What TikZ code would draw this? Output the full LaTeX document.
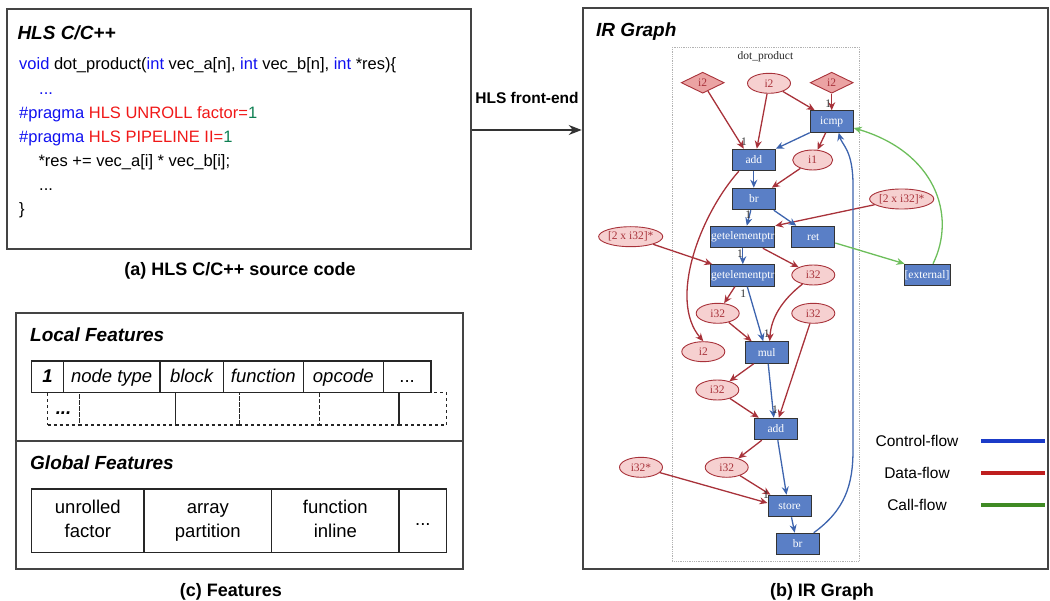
\documentclass[tikz,border=0pt]{standalone}
\usepackage{fontspec}
\setmainfont{Liberation Sans}
\newfontfamily\irfont{Liberation Serif}
\usetikzlibrary{shapes.geometric,arrows.meta,calc}
\definecolor{cblue}{HTML}{1010F0}
\definecolor{cred}{HTML}{F01818}
\definecolor{cgreen}{HTML}{0E7F52}
\definecolor{boxfill}{HTML}{5A7FC6}
\definecolor{ellfill}{HTML}{F6D0D0}
\definecolor{diafill}{HTML}{EBA3A3}
\definecolor{dataE}{HTML}{A8323A}
\definecolor{ctrlE}{HTML}{3D64AE}
\definecolor{callE}{HTML}{6DBE5B}
\definecolor{legBlue}{HTML}{1B3BC8}
\definecolor{legRed}{HTML}{BE1E1E}
\definecolor{legGreen}{HTML}{3F8A24}
\definecolor{framec}{HTML}{444444}
\tikzset{
  panel/.style={draw=framec, line width=2pt, inner sep=0pt},
  ptitle/.style={font=\fontsize{19}{22}\selectfont\bfseries\itshape, anchor=west, inner sep=0pt},
  caption/.style={font=\fontsize{18}{22}\selectfont\bfseries, inner sep=0pt},
  codeline/.style={font=\fontsize{16.5}{20}\selectfont, anchor=base west, inner sep=0pt},
  cellsolid/.style={draw=black!85, line width=1.3pt, inner sep=0pt, text height=14.5pt, text depth=3.5pt, font=\fontsize{18.5}{22}\selectfont\itshape},
  celldash/.style={draw=black!85, line width=1.3pt, dashed, inner sep=0pt, text height=14.5pt, text depth=3.5pt, font=\fontsize{18.5}{22}\selectfont\bfseries\itshape},
  cellglob/.style={draw=black!85, line width=1.3pt, inner sep=0pt, align=center, font=\fontsize{18.5}{23.3}\selectfont},
  irbox/.style={draw=black!80, fill=boxfill, text=white, line width=1pt, minimum width=43pt, minimum height=21.5pt, inner sep=0pt, font=\irfont\fontsize{11.5}{12}\selectfont},
  irell/.style={ellipse, draw=dataE, fill=ellfill, text=dataE, line width=0.9pt, minimum width=43pt, minimum height=20pt, inner sep=0pt, font=\irfont\fontsize{11.5}{12}\selectfont},
  irdia/.style={diamond, aspect=2, draw=dataE, fill=diafill, text=dataE, line width=0.9pt, minimum width=43pt, minimum height=21pt, inner sep=0pt, font=\irfont\fontsize{11.5}{12}\selectfont},
  dataedge/.style={draw=dataE, line width=1.3pt, -{Stealth[length=8pt,width=7pt]}},
  ctrledge/.style={draw=ctrlE, line width=1.3pt, -{Stealth[length=8pt,width=7pt]}},
  calledge/.style={draw=callE, line width=1.3pt, -{Stealth[length=8pt,width=7pt]}},
  onelabel/.style={font=\irfont\fontsize{11.5}{12}\selectfont, inner sep=0pt, text=black!80},
  legtext/.style={font=\fontsize{15.5}{18}\selectfont, inner sep=0pt},
  legline/.style={line width=4pt}
}
\begin{document}
\begin{tikzpicture}[x=1pt,y=-1pt]
\useasboundingbox (0,0) rectangle (1050,601);

% ---------- (a) source code panel
\node[panel, minimum width=463.7pt, minimum height=239.7pt] (boxA) at (239.15,129.15) {};
\node[ptitle] (titA) at (17.3,33) {HLS C/C++};
\node[codeline] (c1) at (19,70) {\textcolor{cblue}{void} dot\_product(\textcolor{cblue}{int} vec\_a[n], \textcolor{cblue}{int} vec\_b[n], \textcolor{cblue}{int} *res)\{};
\node[codeline] (c2) at (39,94.3) {\textcolor{cblue}{...}};
\node[codeline] (c3) at (19,118.3) {\textcolor{cblue}{\#pragma} \textcolor{cred}{HLS UNROLL factor=}\textcolor{cgreen}{1}};
\node[codeline] (c4) at (19,142.3) {\textcolor{cblue}{\#pragma} \textcolor{cred}{HLS PIPELINE II=}\textcolor{cgreen}{1}};
\node[codeline] (c5) at (38.3,166.5) {*res += vec\_a[i] * vec\_b[i];};
\node[codeline] (c6) at (39,190.5) {...};
\node[codeline] (c7) at (19,214.5) {\}};
\node[caption] (capA) at (240,271) {(a) HLS C/C++ source code};

% ---------- (b) IR graph panel
\node[panel, minimum width=464.8pt, minimum height=561.3pt] (boxB) at (815.1,288.65) {};
\node[ptitle] (titB) at (596,32) {IR Graph};
\node[caption] (capB) at (822,591.5) {(b) IR Graph};

% arrow
\draw[draw=black!80, line width=1.3pt, -{Stealth[length=13pt,width=10pt]}] (boxA.east |- 0,130) coordinate (arrS) -- (boxB.west |- arrS);
\node[font=\fontsize{15.5}{18}\selectfont\bfseries, inner sep=0pt] (fe) at (527,98.3) {HLS front-end};

% dotted container
\node[draw=black!30, densely dotted, line width=0.8pt, minimum width=187pt, minimum height=513.7pt, inner sep=0pt] (cont) at (765.8,304.15) {};
\node[font=\irfont\fontsize{11.5}{12}\selectfont, inner sep=0pt, text=black!85] (dp) at (765.5,57) {dot\_product};

% IR nodes
\node[irdia] (i2a) at (702.7,82.7) {i2};
\node[irell] (i2b) at (769,83.3) {i2};
\node[irdia] (i2c) at (831.7,82.7) {i2};
\node[irbox] (icmp) at (831.7,121.5) {icmp};
\node[irbox] (add1) at (753.8,160) {add};
\node[irell, minimum width=40pt] (i1) at (812.7,160) {i1};
\node[irbox] (br1) at (753.8,199) {br};
\node[irell, minimum width=63pt] (arrR) at (901.7,199) {[2 x i32]*};
\node[irbox, minimum width=64pt] (gep1) at (742.8,237) {getelementptr};
\node[irbox] (ret) at (813.3,237) {ret};
\node[irell, minimum width=63pt] (arrL) at (630.7,236.7) {[2 x i32]*};
\node[irbox, minimum width=64pt] (gep2) at (742.8,275.5) {getelementptr};
\node[irell] (i32a) at (813.3,275) {i32};
\node[irbox, minimum width=46pt] (ext) at (927,275) {[external]};
\node[irell] (i32b) at (717.7,313.3) {i32};
\node[irell] (i32c) at (813.3,313.3) {i32};
\node[irell] (i2d) at (703.3,351.7) {i2};
\node[irbox] (mul) at (766.7,352.5) {mul};
\node[irell] (i32d) at (717.3,390) {i32};
\node[irbox] (add2) at (775.8,429) {add};
\node[irell] (i32e) at (726.7,467.3) {i32};
\node[irell] (i32p) at (641,467.3) {i32*};
\node[irbox] (store) at (789.5,506) {store};
\node[irbox] (br2) at (797.7,544) {br};

% data edges
\draw[dataedge] (i2a) -- ($(add1.north)+(-10,0)$);
\draw[dataedge] (i2b) -- ($(add1.north)+(3,0)$);
\draw[dataedge] (i2b) -- ($(icmp.north west)+(5,0)$);
\draw[dataedge] (i2c) -- (icmp);
\draw[dataedge] ($(icmp.south)+(-6,0)$) -- (i1);
\draw[dataedge] (i1) -- ($(br1.north east)+(-4,0)$);
\draw[dataedge] ($(add1.south west)+(7,0)$) .. controls (700,215) and (668,300) .. (i2d.north);
\draw[dataedge] (arrR) -- (gep1.north east);
\draw[dataedge] (arrL) -- ($(gep2.north west)+(2,0)$);
\draw[dataedge] ($(gep1.south)+(20,0)$) -- (i32a);
\draw[dataedge] ($(gep2.south)+(-8,0)$) -- (i32b);
\draw[dataedge] (i32b) -- ($(mul.north west)+(7,0)$);
\draw[dataedge] (i32a.220) .. controls (782,300) and (771,318) .. ($(mul.north)+(3,0)$);
\draw[dataedge] (i32c) -- ($(add2.north)+(3,0)$);
\draw[dataedge] ($(mul.south)+(-13,0)$) -- (i32d);
\draw[dataedge] (i32d) -- ($(add2.north west)+(5,0)$);
\draw[dataedge] ($(add2.south)+(-14,0)$) -- (i32e);
\draw[dataedge] (i32e) -- ($(store.north west)+(3,0)$);
\draw[dataedge] (i32p) -- ($(store.west)+(0,-3)$);

% control edges
\draw[ctrledge] (icmp.south west) -- (add1.north east);
\draw[ctrledge] (add1) -- (br1);
\draw[ctrledge] ($(br1.south)+(-3,0)$) -- ($(gep1.north)+(4,0)$);
\draw[ctrledge] ($(br1.south east)+(-2,0)$) -- ($(ret.north)+(-17,0)$);
\draw[ctrledge] (gep1) -- (gep2);
\draw[ctrledge] ($(gep2.south)+(4.5,0)$) -- ($(mul.north)+(-3.5,0)$);
\draw[ctrledge] ($(mul.south)+(1.5,0)$) -- ($(add2.north)+(-2,0)$);
\draw[ctrledge] ($(add2.south)+(2,0)$) -- ($(store.north)+(-3,0)$);
\draw[ctrledge] ($(store.south)+(2,0)$) -- ($(br2.north)+(-3,0)$);
\draw[ctrledge] ($(br2.north east)+(-6,0)$) .. controls (845,510) and (853,485) .. (853,450) -- (853,185) .. controls (853,150) and (842,145) .. ($(icmp.south)+(7,0)$);

% call edges
\draw[calledge] ($(ret.east)+(0,6)$) -- ($(ext.north west)+(1,0)$);
\draw[calledge] ($(ext.north)+(6,0)$) .. controls (957,215) and (935,152) .. ($(icmp.east)+(0,6.5)$);

% "1" labels
\node[onelabel] (l1) at (744,141.7) {1};
\node[onelabel] (l2) at (828.3,103.3) {1};
\node[onelabel] (l3) at (748.3,215) {1};
\node[onelabel] (l4) at (740,253.3) {1};
\node[onelabel] (l5) at (743.3,293.3) {1};
\node[onelabel] (l6) at (766.7,334) {1};
\node[onelabel] (l7) at (775,410) {1};
\node[onelabel] (l8) at (766,495) {1};

% legend
\node[legtext] (lc) at (917,441) {Control-flow};
\node[legtext] (ld) at (917,473) {Data-flow};
\node[legtext] (lk) at (917,505) {Call-flow};
\coordinate (lcA) at (981,441); \coordinate (lcB) at (1045,441);
\coordinate (ldA) at (981,473); \coordinate (ldB) at (1045,473);
\coordinate (lkA) at (981,505); \coordinate (lkB) at (1045,505);
\draw[legline, legBlue] (lcA) -- (lcB);
\draw[legline, legRed] (ldA) -- (ldB);
\draw[legline, legGreen] (lkA) -- (lkB);

% ---------- (c) features panel
\node[panel, minimum width=447.6pt, minimum height=255.4pt] (boxC) at (239.5,441) {};
\draw[draw=framec, line width=2pt] (boxC.west) -- (boxC.east);
\node[ptitle] (titL) at (30,335) {Local Features};
\node[ptitle] (titG) at (30,462.7) {Global Features};
\node[caption] (capC) at (231,591.7) {(c) Features};

% dashed row
\node[celldash, minimum width=31.6pt, minimum height=32.3pt] (d1) at (63.5,408.85) {...};
\node[celldash, minimum width=96.4pt, minimum height=32.3pt] (d2) at (127.5,408.85) {};
\node[celldash, minimum width=63.6pt, minimum height=32.3pt] (d3) at (207.5,408.85) {};
\node[celldash, minimum width=80pt, minimum height=32.3pt] (d4) at (279.3,408.85) {};
\node[celldash, minimum width=79.7pt, minimum height=32.3pt] (d5) at (359.15,408.85) {};
\node[celldash, minimum width=47.7pt, minimum height=32.3pt] (d6) at (422.85,408.85) {};

% solid row
\node[cellsolid, fill=white, minimum width=31.6pt, minimum height=31.7pt] (s1) at (47.5,376.85) {\bfseries 1};
\node[cellsolid, fill=white, minimum width=96.7pt, minimum height=31.7pt] (s2) at (111.65,376.85) {node type};
\node[cellsolid, fill=white, minimum width=63.3pt, minimum height=31.7pt] (s3) at (191.65,376.85) {block};
\node[cellsolid, fill=white, minimum width=80pt, minimum height=31.7pt] (s4) at (263.3,376.85) {function};
\node[cellsolid, fill=white, minimum width=80pt, minimum height=31.7pt] (s5) at (343.3,376.85) {opcode};
\node[cellsolid, fill=white, minimum width=47.7pt, minimum height=31.7pt] (s6) at (407.15,376.85) {\upshape ...};

% global row
\node[cellglob, minimum width=112.3pt, minimum height=63.7pt] (g1) at (87.85,520.85) {\vphantom{Afp}unrolled\\\vphantom{Afp}factor};
\node[cellglob, minimum width=127.7pt, minimum height=63.7pt] (g2) at (207.85,520.85) {\vphantom{Afp}array\\\vphantom{Afp}partition};
\node[cellglob, minimum width=127.3pt, minimum height=63.7pt] (g3) at (335.35,520.85) {\vphantom{Afp}function\\\vphantom{Afp}inline};
\node[cellglob, minimum width=47.7pt, minimum height=63.7pt] (g4) at (422.85,520.85) {...\vphantom{Afp}};
\end{tikzpicture}
\end{document}
